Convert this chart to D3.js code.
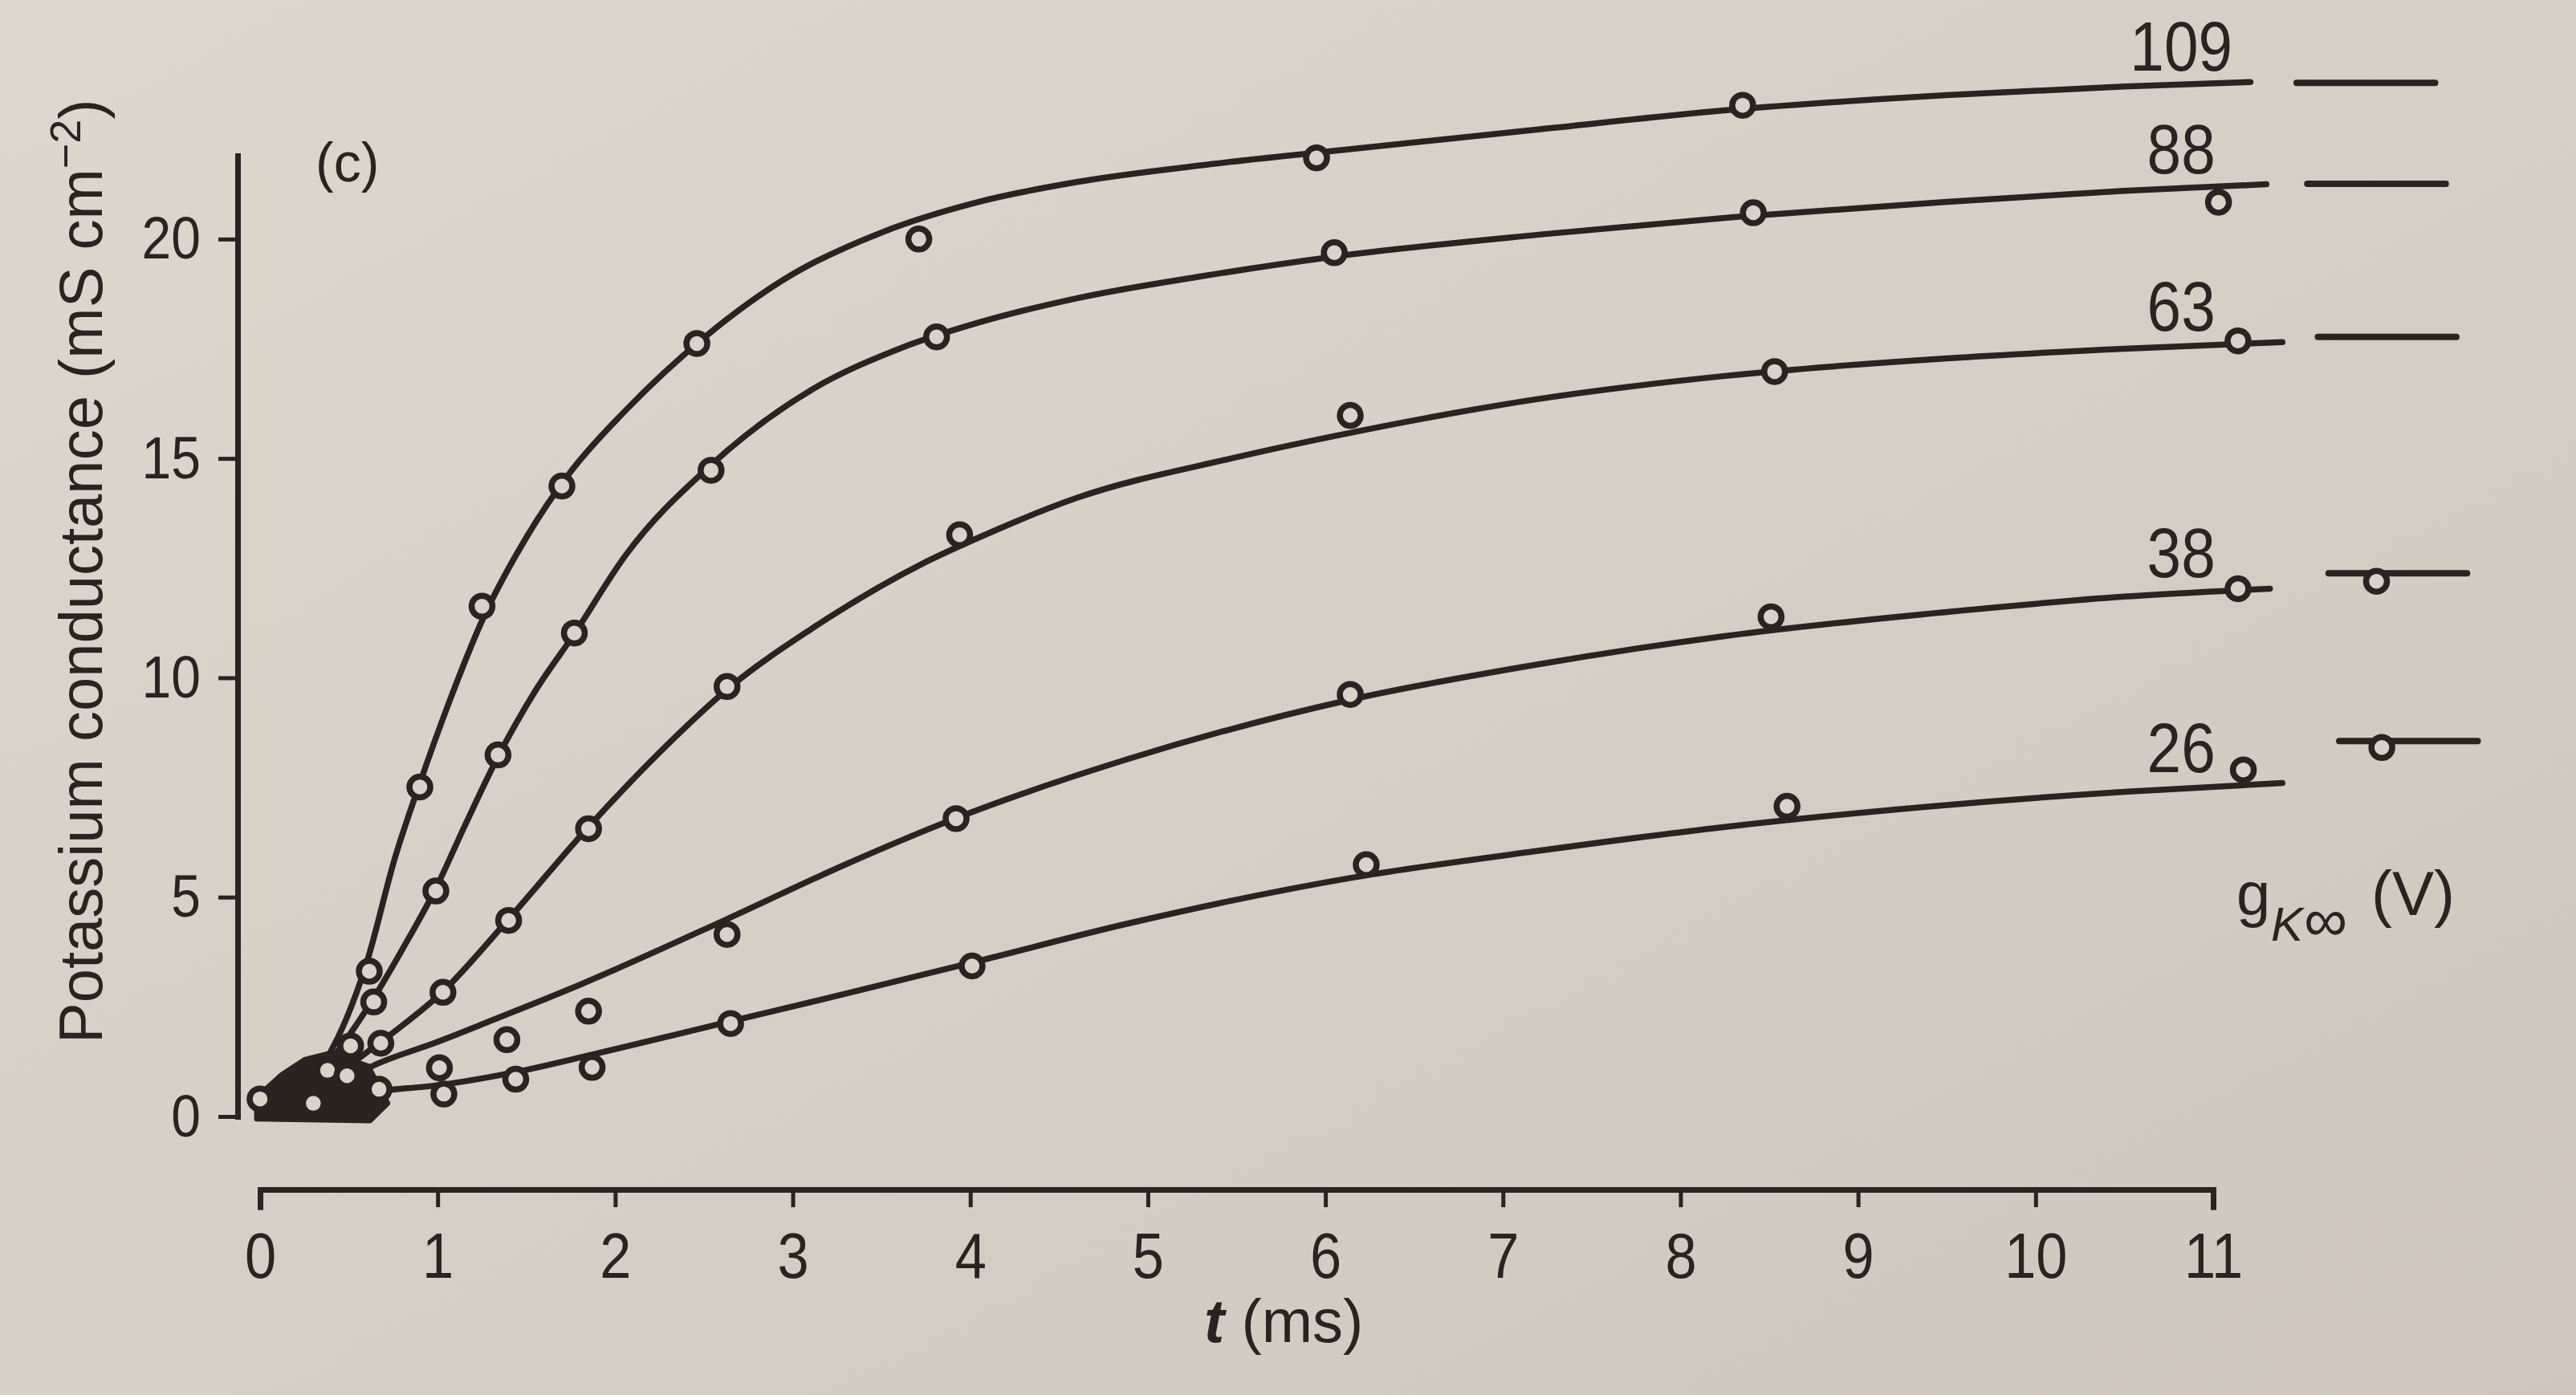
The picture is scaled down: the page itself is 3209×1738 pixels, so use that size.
<!DOCTYPE html>
<html><head><meta charset="utf-8">
<script src="https://cdn.jsdelivr.net/npm/d3@7"></script>
<style>html,body{margin:0;padding:0;background:#d4cdc4;overflow:hidden}</style>
</head><body>
<script>
// ---------- data ----------
const xTicks = [0,1,2,3,4,5,6,7,8,9,10,11];
const yTicks = [0,5,10,15,20];
const voltages = ["109","88","63","38","26"];

// fitted curves: [t (ms), g_K (mS cm^-2)]
const curve109 = [[0,0],[0.2,0.55],[0.4,1.5],[0.6,3.5],[0.76,5.9],[0.9,7.6],[1.07,9.5],[1.25,11.3],[1.5,13.2],[1.75,14.7],[2.06,16.1],[2.5,17.75],[3.0,19.2],[3.5,20.15],[4.05,20.85],[4.6,21.3],[5.3,21.68],[5.95,21.97],[7.2,22.5],[8.3,22.95],[9.5,23.28],[10.5,23.48],[11.21,23.58]];
const curve88  = [[0,0],[0.2,0.45],[0.37,1.15],[0.64,2.7],[0.8,3.8],[0.99,5.2],[1.15,6.6],[1.34,8.2],[1.55,9.7],[1.77,11.0],[2.06,12.8],[2.54,14.85],[3.1,16.55],[3.6,17.5],[4.05,18.1],[4.6,18.65],[5.3,19.15],[6.05,19.6],[7.2,20.1],[8.3,20.5],[9.5,20.85],[10.5,21.1],[11.3,21.25]];
const curve63  = [[0,0],[0.35,0.75],[0.68,1.7],[1.03,2.85],[1.4,4.5],[1.85,6.6],[2.25,8.3],[2.65,9.8],[3.1,11.1],[3.73,12.6],[4.05,13.2],[4.6,14.1],[5.47,15.0],[6.16,15.6],[7.19,16.35],[8.25,16.88],[9.5,17.28],[10.5,17.5],[11.39,17.65]];
const curve38  = [[0,0],[0.35,0.55],[0.66,1.2],[1.0,1.7],[1.28,2.15],[1.8,3.0],[2.63,4.5],[3.3,5.75],[3.92,6.8],[4.89,8.15],[6.14,9.5],[7.19,10.3],[8.25,10.95],[9.5,11.5],[10.5,11.85],[11.32,12.03]];
const curve26  = [[0,0],[0.35,0.35],[0.68,0.58],[1.02,0.72],[1.4,0.98],[1.88,1.42],[2.65,2.17],[3.3,2.8],[4.05,3.55],[4.89,4.4],[6.16,5.45],[7.19,6.05],[8.25,6.6],[9.5,7.1],[10.5,7.4],[11.39,7.6]];

// measured points (open circles)
const points109 = [[0.51,1.61],[0.615,3.31],[0.90,7.51],[1.25,11.63],[1.70,14.37],[2.46,17.62],[3.71,20.0],[5.95,21.85],[8.35,23.05]];
const points88  = [[0.38,1.05],[0.64,2.61],[0.99,5.14],[1.34,8.24],[1.77,11.02],[2.54,14.73],[3.81,17.77],[6.05,19.69],[8.41,20.6],[11.03,20.84]];
const points63  = [[0.49,0.93],[0.68,1.67],[1.03,2.83],[1.40,4.47],[1.85,6.56],[2.63,9.8],[3.94,13.26],[6.14,15.98],[8.53,16.98],[11.14,17.68]];
const points38  = [[0.67,0.62],[1.01,1.11],[1.39,1.75],[1.85,2.40],[2.63,4.15],[3.92,6.79],[6.14,9.62],[8.51,11.39],[11.14,12.03]];
const points26  = [[0.0,0.4],[0.3,0.3],[1.035,0.51],[1.44,0.85],[1.87,1.12],[2.65,2.12],[4.01,3.43],[6.23,5.74],[8.60,7.07],[11.17,7.9]];

// steady-state conductances g_K∞(V) shown at right
const gInf = [23.56, 21.26, 17.77, 12.38, 8.56];
const gInfPoints = [null, null, null, 12.2, 8.41];

// ink blob where the early traces overlap
const blobOutline = [[-0.02,0.44],[0.12,0.95],[0.25,1.3],[0.4,1.45],[0.61,1.15],[0.72,0.3],[0.62,-0.1],[-0.02,-0.06]];

const curves = [curve109, curve88, curve63, curve38, curve26];
const pointSets = [points109, points88, points63, points38, points26];

// ---------- drawing ----------
const W = 3209, H = 1738;
const ink = "#2a2320";
const hole = "#d9d2c9";
const font = "'Liberation Sans', Arial, sans-serif";

const svg = d3.select("body").append("svg")
  .attr("width", W).attr("height", H)
  .style("display","block");

const defs = svg.append("defs");
const grad = defs.append("linearGradient").attr("id","paper")
  .attr("x1","0").attr("y1","0").attr("x2","1").attr("y2","1");
grad.append("stop").attr("offset","0").attr("stop-color","#ddd7ce");
grad.append("stop").attr("offset","0.5").attr("stop-color","#d6cfc6");
grad.append("stop").attr("offset","1").attr("stop-color","#cfc7bd");
svg.append("rect").attr("width",W).attr("height",H).attr("fill","url(#paper)");

const x = d3.scaleLinear().domain([0, 11]).range([324, 2757]);
const y = d3.scaleLinear().domain([0, 21.9]).range([1391, 194]);

function squeeze(sel, sx) {
  sel.each(function() {
    const t = d3.select(this);
    const tx = +t.attr("x") || 0, ty = +t.attr("y") || 0;
    t.attr("transform", `translate(${tx},${ty}) scale(${sx},1)`).attr("x", 0).attr("y", 0);
  });
}

// blob
svg.append("path")
  .datum(blobOutline)
  .attr("d", d3.line().x(d => x(d[0])).y(d => y(d[1])).curve(d3.curveLinearClosed))
  .attr("fill", ink).attr("stroke", ink).attr("stroke-width", 6).attr("stroke-linejoin","round");

// curves
const line = d3.line().x(d => x(d[0])).y(d => y(d[1])).curve(d3.curveMonotoneX);
svg.append("g").selectAll("path").data(curves).join("path")
  .attr("d", line)
  .attr("fill","none").attr("stroke", ink).attr("stroke-width", 7.5)
  .attr("stroke-linecap","round").attr("stroke-linejoin","round");

// circles
svg.append("g").selectAll("g").data(pointSets).join("g")
  .selectAll("circle").data(d => d).join("circle")
  .attr("cx", d => x(d[0])).attr("cy", d => y(d[1]))
  .attr("r", 13).attr("fill", hole).attr("stroke", ink).attr("stroke-width", 7.5);

// curve labels
svg.append("g").selectAll("text").data(voltages).join("text")
  .attr("x", x(10.82))
  .attr("y", (d,i) => y(curves[i][curves[i].length-1][1]) - 14)
  .attr("text-anchor","middle")
  .attr("font-family", font).attr("font-size", 87).attr("fill", ink)
  .text(d => d)
  .call(squeeze, 0.88);

// g_inf markers
const gInfG = svg.append("g");
gInfG.selectAll("line").data(gInf).join("line")
  .attr("x1", (d,i) => x(11.47 + 0.06*i))
  .attr("x2", (d,i) => x(12.25 + 0.06*i))
  .attr("y1", d => y(d)).attr("y2", d => y(d))
  .attr("stroke", ink).attr("stroke-width", 8).attr("stroke-linecap","round");
gInfG.selectAll("circle").data(gInfPoints.map((g,i)=>({g,i})).filter(d => d.g !== null)).join("circle")
  .attr("cx", d => x(11.92 + 0.03*(d.i-3))).attr("cy", d => y(d.g))
  .attr("r", 13).attr("fill", hole).attr("stroke", ink).attr("stroke-width", 7.5);

// y axis
const yAxis = svg.append("g").attr("transform","translate(296,0)")
  .call(d3.axisLeft(y).tickValues(yTicks).tickSize(24).tickSizeOuter(0).tickPadding(22));
yAxis.select(".domain").attr("stroke", ink).attr("stroke-width", 7);
yAxis.selectAll(".tick line").attr("stroke", ink).attr("stroke-width", 5);
yAxis.selectAll(".tick text").attr("font-family", font).attr("font-size", 75).attr("fill", ink)
  .call(squeeze, 0.88);

// x axis
const xAxis = svg.append("g").attr("transform","translate(0,1482)")
  .call(d3.axisBottom(x).tickValues(xTicks).tickSize(22).tickSizeOuter(22).tickPadding(31));
xAxis.select(".domain").attr("stroke", ink).attr("stroke-width", 7).attr("fill","none");
xAxis.selectAll(".tick line").attr("stroke", ink).attr("stroke-width", 5);
xAxis.selectAll(".tick text").attr("font-family", font).attr("font-size", 80).attr("fill", ink)
  .call(squeeze, 0.88);
svg.selectAll(".domain").attr("stroke-linecap","square");

// axis titles
const xt = svg.append("text").attr("x", 1500).attr("y", 1672)
  .attr("font-family", font).attr("font-size", 76).attr("fill", ink);
xt.append("tspan").attr("font-style","italic").attr("font-weight","bold").text("t");
xt.append("tspan").text(" (ms)");

const yt = svg.append("text")
  .attr("transform","translate(127,1300) rotate(-90)")
  .attr("font-family", font).attr("font-size", 76).attr("fill", ink);
yt.append("tspan").text("Potassium conductance (mS cm");
yt.append("tspan").attr("font-size", 54).attr("dy", -27).text("−2");
yt.append("tspan").attr("dy", 27).text(")");

// panel label
svg.append("text").attr("x", 393).attr("y", 226)
  .attr("font-family", font).attr("font-size", 68).attr("fill", ink).text("(c)");

// g_K∞(V) label
const gl = svg.append("g").attr("font-family", font).attr("fill", ink);
gl.append("text").attr("x", 2786).attr("y", 1140).attr("font-size", 76).text("g");
gl.append("text").attr("x", 2829).attr("y", 1172).attr("font-size", 60).attr("font-style","italic").text("K");
gl.append("text").attr("x", 2870).attr("y", 1172).attr("font-size", 76).text("∞");
gl.append("text").attr("x", 2954).attr("y", 1140).attr("font-size", 78).text("(V)");
</script>
</body></html>
